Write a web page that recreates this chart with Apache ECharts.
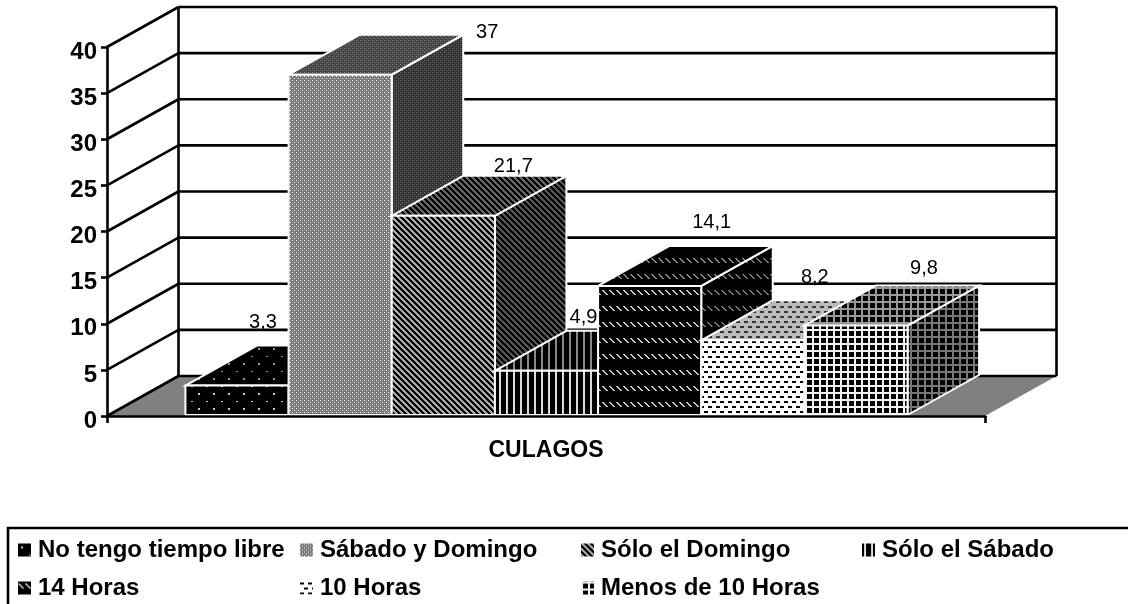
<!DOCTYPE html>
<html><head><meta charset="utf-8">
<style>html,body{margin:0;padding:0;background:#fff}#c{width:1128px;height:604px}</style>
<script src="https://cdn.jsdelivr.net/npm/echarts@6/dist/echarts.min.js"></script>
</head><body><div id="c"></div>
<script>
const categories = ['CULAGOS'];
const seriesNames = ['No tengo tiempo libre','Sábado y Domingo','Sólo el Domingo','Sólo el Sábado','14 Horas','10 Horas','Menos de 10 Horas'];
const seriesValues = [3.3, 37, 21.7, 4.9, 14.1, 8.2, 9.8];
const yTicks = [0,5,10,15,20,25,30,35,40];

// styling / layout (not data)
const labelOffsets = [[26,-63],[147,-42],[70,-49],[37,-53],[62,-63],[62,-63],[68,-57]];
const legendSpots = [[18,551],[300,551],[581,551],[862,551],[18,589],[300,589],[581,589]];
const DX = 71.5, DY = -40, BAR_FRAC = 0.1175, FONT = '"Liberation Sans", Arial, sans-serif', LW = 2.6;

function tile(w, h, draw) {
  const c = document.createElement('canvas'); c.width = w; c.height = h;
  const g = c.getContext('2d');
  const px = (col, x, y, a, b) => { g.fillStyle = col; g.fillRect(x, y, a || 1, b || 1); };
  draw(px);
  return { image: c, repeat: 'repeat' };
}
const dots = (dot) => tile(15, 15, p => { p('#000',0,0,15,15); p(dot,3,3,2,2); p(dot,11,11,2,1); });
const checker = (a, b, s) => tile(4, 4, p => { p(a,0,0,4,4); p(b,0,0); p(b,2,2); p(s,2,0); p(s,0,2); });
const diag = (bg, fg) => tile(6, 6, p => { p(bg,0,0,6,6); for (let i=0;i<6;i++){ p(fg,i,i); p(fg,(i+1)%6,i); p(fg,(i+2)%6,i);} });
const vert = (fg) => tile(7, 4, p => { p('#000',0,0,7,4); p(fg,2,0,2,4); });
const dashes = (fg) => tile(7, 16, p => { p('#000',0,0,7,16);
  for (let i=0;i<5;i++){ p(fg,i,i+2,2,1); } });
const brick = (bg, fg) => tile(8, 10, p => { p(bg,0,0,8,10); p(fg,0,1,4,2); p(fg,4,6,4,2); });
const grid = (fg) => tile(7, 7, p => { p('#000',0,0,7,7); p(fg,0,0,7,2); p(fg,0,0,2,7); });

const faces = [
  { front: dots('#ccc'), side: dots('#999'), top: dots('#999') },
  { front: checker('#777','#fff','#888'), side: checker('#333','#777','#444'), top: checker('#444','#888','#555') },
  { front: diag('#000','#aaa'), side: diag('#000','#555'), top: diag('#000','#666') },
  { front: vert('#ddd'), side: vert('#777'), top: vert('#888') },
  { front: dashes('#ccc'), side: dashes('#777'), top: dashes('#888') },
  { front: brick('#fff','#000'), side: brick('#888','#000'), top: brick('#bbb','#333') },
  { front: grid('#f4f4f4'), side: grid('#777'), top: grid('#999') }
];

const renderFrame = (params, api) => {
  const r = params.coordSys, L = r.x, R = r.x + r.width;
  const y0 = api.coord([0, 0])[1], yTop = api.coord([0, yTicks[yTicks.length-1]])[1];
  const line = (a,b,c,d) => ({ type:'line', shape:{x1:a,y1:b,x2:c,y2:d}, style:{stroke:'#000',lineWidth:LW,fill:null} });
  const kids = [
    { type:'polygon', shape:{points:[[L,y0],[L+DX,y0+DY],[R+DX,y0+DY],[R,y0]]}, style:{fill:'#808080'} },
    line(L+DX,yTop+DY,L+DX,y0+DY), line(R+DX,yTop+DY,R+DX,y0+DY)
  ];
  yTicks.forEach(v => {
    const y = api.coord([0,v])[1];
    kids.push(line(L+DX,y+DY,R+DX,y+DY), line(L,y,L+DX,y+DY));
  });
  return { type:'group', children:kids };
};

const renderBar = (i) => (params, api) => {
  const r = params.coordSys, w = r.width * BAR_FRAC;
  const cx = api.coord([0,0])[0] + 0.5 + (i-3)*w;
  const y0 = api.coord([0,0])[1] - 1, yv = api.coord([0,api.value(1)])[1];
  const a = cx - w/2, b = cx + w/2;
  const edge = { stroke:'#fff', lineWidth:2, lineJoin:'miter' };
  const f = faces[i];
  return { type:'group', children:[
    { type:'polygon', shape:{points:[[b,y0],[b+DX,y0+DY],[b+DX,yv+DY],[b,yv]]}, style:Object.assign({fill:f.side},edge) },
    { type:'polygon', shape:{points:[[a,yv],[a+DX,yv+DY],[b+DX,yv+DY],[b,yv]]}, style:Object.assign({fill:f.top},edge) },
    { type:'rect', shape:{x:a,y:yv,width:w,height:y0-yv}, style:Object.assign({fill:f.front},edge) },
    { type:'text', z2:100, x:cx+labelOffsets[i][0], y:yv+labelOffsets[i][1],
      style:{ text:String(api.value(1)).replace('.',','), fill:'#000', font:'20px '+FONT, textAlign:'center', textVerticalAlign:'middle' } }
  ]};
};

const series = [{ type:'custom', name:'frame', silent:true, z:1, renderItem:renderFrame, data:[[0,0]], encode:{x:0,y:1} }];
seriesNames.forEach((n,i) => series.push({
  type:'custom', name:n, z:2+i, renderItem:renderBar(i), itemStyle:{color:faces[i].front},
  data:[[0,seriesValues[i]]], encode:{x:0,y:1}
}));

const legends = seriesNames.map((n,i) => ({
  data:[n], left:legendSpots[i][0], top:legendSpots[i][1]-13, padding:0, itemWidth:13, itemHeight:13, icon:'rect',
  itemStyle:{color:faces[i].front, borderWidth:0}, selectedMode:false,
  textStyle:{ fontFamily:FONT, fontWeight:'bold', fontSize:24, color:'#000', padding:[0,0,0,2] }
}));

const chart = echarts.init(document.getElementById('c'), null, {renderer:'canvas'});
chart.setOption({
  animation:false, backgroundColor:'#fff', tooltip:{show:false},
  grid:{ left:107, right:143, top:47, bottom:188, containLabel:false },
  xAxis:{ type:'category', data:categories, boundaryGap:true,
    axisLine:{onZero:false,lineStyle:{color:'#000',width:LW}}, axisTick:{show:true,interval:0,length:7,alignWithLabel:false,lineStyle:{color:'#000',width:LW}},
    axisLabel:{ margin:23, color:'#000', fontFamily:FONT, fontWeight:'bold', fontSize:23 }, z:20 },
  yAxis:{ type:'value', min:0, max:40, interval:5, splitLine:{show:false},
    axisLine:{show:true,onZero:false,lineStyle:{color:'#000',width:LW}}, axisTick:{show:true,length:6,lineStyle:{color:'#000',width:LW}},
    axisLabel:{ margin:10, verticalAlign:'top', lineHeight:10, color:'#000', fontFamily:FONT, fontWeight:'bold', fontSize:24 }, z:20 },
  legend:legends,
  series:series,
  graphic:[{ type:'rect', silent:true, shape:{x:8,y:528,width:1140,height:100}, style:{fill:null,stroke:'#000',lineWidth:LW} }]
});
</script></body></html>
